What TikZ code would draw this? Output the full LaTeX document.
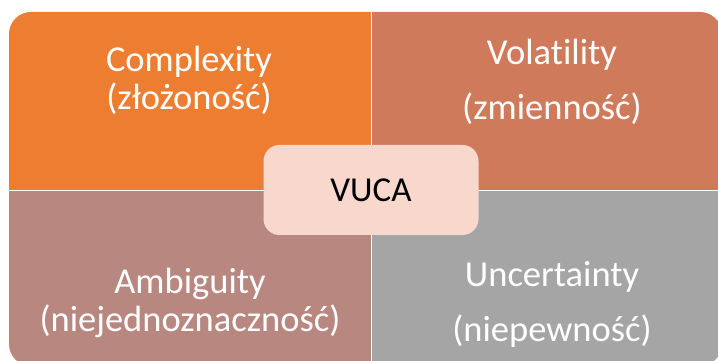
\documentclass[tikz,border=0pt]{standalone}
\usepackage{fontspec}
\setmainfont{Carlito}[Ligatures=NoCommon]
\usetikzlibrary{positioning}

\definecolor{cplxorange}{RGB}{237,125,49}
\definecolor{volarust}{RGB}{208,122,92}
\definecolor{ambirose}{RGB}{184,135,127}
\definecolor{uncgray}{RGB}{165,165,165}
\definecolor{vucapink}{RGB}{248,216,205}

\begin{document}
\begin{tikzpicture}[x=1pt, y=1pt]
    % Styles
    \tikzstyle{quad} = [draw=white, line width=0.8pt]
    \tikzstyle{label} = [align=center, text=white, font=\fontsize{36.5}{38}\selectfont]
    \tikzstyle{widelabel} = [align=center, text=white, font=\fontsize{36.5}{55}\selectfont]
    \tikzstyle{core} = [rectangle, rounded corners=16pt, fill=vucapink, minimum width=215pt, minimum height=90pt, font=\fontsize{35}{38}\selectfont]

    \useasboundingbox (0,0) rectangle (718,361);

    % Quadrants
    \begin{scope}
        \clip[rounded corners=22pt] (9,-5) rectangle (722,349);
        \fill[cplxorange, quad] (0,171) rectangle (371,361);
        \fill[volarust, quad] (371,171) rectangle (730,361);
        \fill[ambirose, quad] (0,-10) rectangle (371,171);
        \fill[uncgray, quad] (371,-10) rectangle (730,171);
    \end{scope}

    % Nodes
    \node[label] (complexity) at (189,281) {Complexity\\(złożoność)};
    \node[widelabel] (volatility) at (552,279) {Volatility\\(zmienność)};
    \node[label] (ambiguity) at (190,58) {Ambiguity\\(niejednoznaczność)};
    \node[widelabel] (uncertainty) at (552,57) {Uncertainty\\(niepewność)};
    \node[core] (vuca) at (371,171) {VUCA};

\end{tikzpicture}
\end{document}
